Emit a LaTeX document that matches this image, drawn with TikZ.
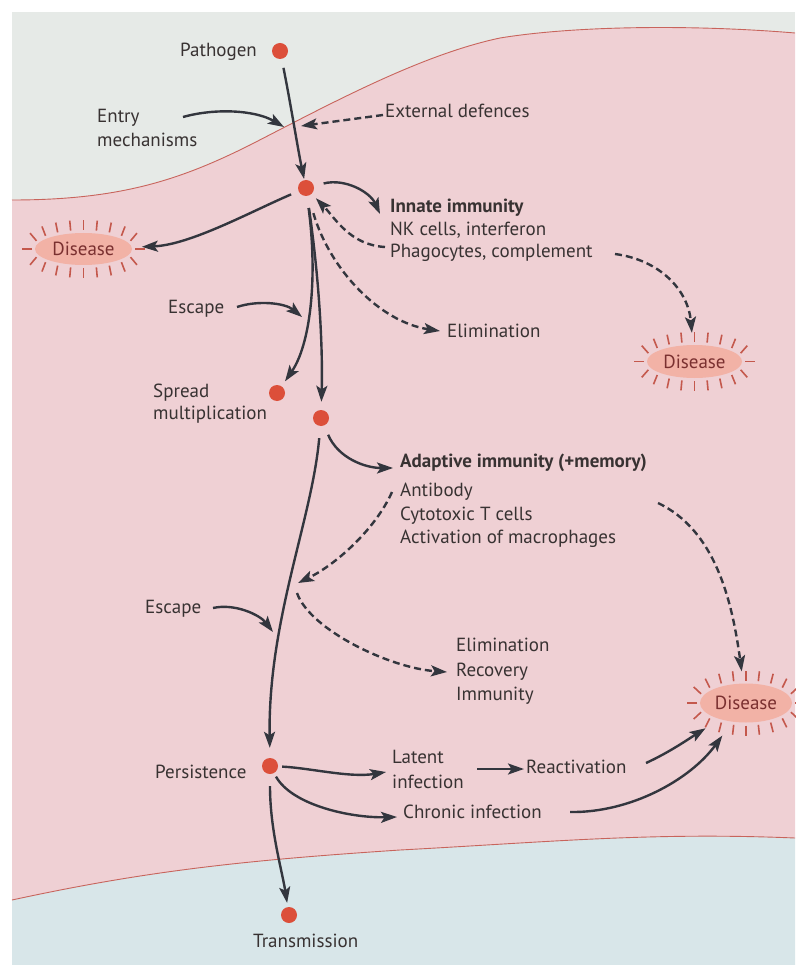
\documentclass[tikz,border=0pt]{standalone}
\usepackage{fontspec}
\setmainfont{PT Sans}
\usetikzlibrary{arrows.meta,shapes.geometric}
\definecolor{bgtop}{HTML}{E6EAE7}
\definecolor{bgbot}{HTML}{D8E6E9}
\definecolor{pinkband}{HTML}{EFD0D4}
\definecolor{edgeline}{HTML}{C8645C}
\definecolor{dotc}{HTML}{DC4F3A}
\definecolor{arrc}{HTML}{33363E}
\definecolor{txt}{HTML}{383232}
\definecolor{disfill}{HTML}{F2B2A6}
\definecolor{distxt}{HTML}{7A3030}
\definecolor{spk}{HTML}{C4584C}
\tikzset{
  lbl/.style={inner sep=0pt, anchor=base west, text=txt, font=\fontsize{19}{23}\selectfont},
  blbl/.style={lbl, font=\fontsize{19}{23}\selectfont\bfseries},
  dot/.style={circle, fill=dotc, minimum size=16pt, inner sep=0pt},
  arr/.style={draw=arrc, line width=2.4pt, -{Stealth[length=16pt,width=11pt,inset=3.5pt]}},
  darr/.style={arr, dash pattern=on 7pt off 4pt},
  disease/.style={ellipse, fill=disfill, inner sep=0pt, text=distxt, font=\fontsize{19}{23}\selectfont},
  spike/.style={draw=spk, line width=1.6pt},
}
\newcommand\spikesfor[3]{%
  \foreach \fx in {-0.93,-0.76,-0.52,-0.26,0,0.26,0.52,0.76,0.93}{%
    \foreach \sgn in {1,-1}{%
      \pgfmathsetmacro\spT{\sgn*acos(\fx)}%
      \pgfmathsetmacro\spX{#3*cos(\spT)}%
      \pgfmathsetmacro\spY{#2*sin(\spT)}%
      \pgfmathsetmacro\spN{sqrt(\spX*\spX+\spY*\spY)}%
      \draw[spike, shift={(#1.center)}] ({#2*cos(\spT)+3*\spX/\spN},{#3*sin(\spT)+3*\spY/\spN}) -- ({#2*cos(\spT)+13*\spX/\spN},{#3*sin(\spT)+13*\spY/\spN});
    }}
  \draw[spike, shift={(#1.center)}] (#2+3,0) -- (#2+13,0);
  \draw[spike, shift={(#1.center)}] (-#2-3,0) -- (-#2-13,0);
}
\begin{document}
\begin{tikzpicture}[x=1pt,y=-1pt]
\useasboundingbox (0,0) rectangle (795,965);
\fill[white] (0,0) rectangle (795,965);
\fill[bgtop] (12,12) rectangle (795,965);
% pink band
\fill[pinkband] (12,200) .. controls (120,200) and (180,180) .. (250,145)
  .. controls (330,104) and (420,55) .. (500,38)
  .. controls (580,25) and (700,25) .. (795,33)
  -- (795,838) .. controls (650,832) and (550,842) .. (400,850)
  .. controls (250,860) and (150,870) .. (12,900) -- cycle;
\fill[bgbot] (12,900) .. controls (150,870) and (250,860) .. (400,850)
  .. controls (550,842) and (650,832) .. (795,838) -- (795,965) -- (12,965) -- cycle;
\draw[edgeline, line width=0.9pt] (12,200) .. controls (120,200) and (180,180) .. (250,145)
  .. controls (330,104) and (420,55) .. (500,38)
  .. controls (580,25) and (700,25) .. (795,33);
\draw[edgeline, line width=0.9pt] (12,900) .. controls (150,870) and (250,860) .. (400,850)
  .. controls (550,842) and (650,832) .. (795,838);

% dots
\node[dot] (pathogen) at (280,51) {};
\node[dot] (d2) at (306,188) {};
\node[dot] (spread) at (277,393) {};
\node[dot] (d4) at (321,418) {};
\node[dot] (persist) at (270,766) {};
\node[dot] (trans) at (289,915) {};

% labels
\node[lbl] (lpath) at (180,57) {Pathogen};
\node[lbl] (lentry1) at (97,123) {Entry};
\node[lbl] (lentry2) at (97,147) {mechanisms};
\node[lbl] (lext) at (385,118) {External defences};
\node[blbl] (linnate) at (390,213) {Innate immunity};
\node[lbl] (lnk) at (390,236) {NK cells, interferon};
\node[lbl] (lphago) at (390,258) {Phagocytes, complement};
\node[lbl] (lelim1) at (447,337) {Elimination};
\node[lbl] (lesc1) at (168,313) {Escape};
\node[lbl] (lspread1) at (153,397) {Spread};
\node[lbl] (lspread2) at (153,419) {multiplication};
\node[blbl] (ladapt) at (400,467) {Adaptive immunity (+memory)};
\node[lbl] (lab) at (400,496) {Antibody};
\node[lbl] (lcyt) at (400,520) {Cytotoxic T cells};
\node[lbl] (lact) at (400,543) {Activation of macrophages};
\node[lbl] (lelim2) at (456,651) {Elimination};
\node[lbl] (lrec) at (456,676) {Recovery};
\node[lbl] (limm) at (456,700) {Immunity};
\node[lbl] (lesc2) at (145,613) {Escape};
\node[lbl] (lpers) at (155,778) {Persistence};
\node[lbl] (llat1) at (392,763) {Latent};
\node[lbl] (llat2) at (392,788) {infection};
\node[lbl] (lreact) at (526,773) {Reactivation};
\node[lbl] (lchron) at (403,818) {Chronic infection};
\node[lbl] (ltrans) at (253,947) {Transmission};

% disease nodes
\node[disease, minimum width=97pt, minimum height=32pt] (dL) at (83.5,249) {Disease};
\node[disease, minimum width=95pt, minimum height=33pt] (dR1) at (694.5,361.5) {Disease};
\node[disease, minimum width=92pt, minimum height=39pt] (dR2) at (746,703) {Disease};
\spikesfor{dL}{48.5}{16}
\spikesfor{dR1}{47.5}{16.5}
\spikesfor{dR2}{46}{19.5}

% ports
\coordinate (entryOut) at (183,117);
\coordinate (skinIn) at (284,127);
\coordinate (extOut) at (383,115);
\coordinate (extIn) at (301,126);
\coordinate (innateIn) at (380,214);
\coordinate (phagoOut) at (385,247);
\coordinate (elimIn) at (440,331);
\coordinate (esc1Out) at (237,307);
\coordinate (esc1In) at (302,317);
\coordinate (phagoOut2) at (615,254);
\coordinate (adaptIn) at (393,468);
\coordinate (abOut) at (392,492);
\coordinate (abIn) at (298,583);
\coordinate (recOut) at (297,593);
\coordinate (recIn) at (447,672);
\coordinate (adOut) at (658,503);
\coordinate (esc2Out) at (213,608);
\coordinate (esc2In) at (273,632);
\coordinate (latIn) at (386,772);
\coordinate (latOut) at (477,769);
\coordinate (reactIn) at (524,769);
\coordinate (reactOut) at (646,763);
\coordinate (chrIn) at (397,817);
\coordinate (chrOut) at (570,812);

% connectors
\draw[arr, shorten <=9pt, shorten >=1pt] (pathogen) .. controls (290,100) and (298,150) .. (d2);
\draw[arr] (entryOut) .. controls (215,108) and (255,110) .. (skinIn);
\draw[darr] (extOut) -- (extIn);
\draw[arr, shorten <=10pt] (d2) .. controls (345,178) and (370,192) .. (innateIn);
\draw[darr, shorten >=6pt] (phagoOut) .. controls (350,245) and (335,218) .. (d2);
\draw[darr, shorten <=18pt] (d2) .. controls (330,270) and (380,322) .. (elimIn);
\draw[arr, shorten <=8pt, shorten >=10pt] (d2) .. controls (250,212) and (190,245) .. (dL);
\draw[arr, shorten <=12pt, shorten >=6pt] (d2) .. controls (318,280) and (310,345) .. (spread);
\draw[arr, shorten <=12pt, shorten >=8pt] (d2) .. controls (318,270) and (323,340) .. (d4);
\draw[arr] (esc1Out) .. controls (258,300) and (285,303) .. (esc1In);
\draw[darr, shorten >=12pt] (phagoOut2) .. controls (660,260) and (688,290) .. (dR1);
\draw[arr, shorten <=10pt] (d4) .. controls (338,458) and (365,468) .. (adaptIn);
\draw[arr, shorten <=12pt, shorten >=10pt] (d4) .. controls (312,520) and (268,620) .. (persist);
\draw[darr] (abOut) .. controls (375,530) and (335,565) .. (abIn);
\draw[darr] (recOut) .. controls (310,630) and (390,668) .. (recIn);
\draw[darr, shorten >=12pt] (adOut) .. controls (715,530) and (732,600) .. (dR2);
\draw[arr] (esc2Out) .. controls (235,603) and (260,615) .. (esc2In);
\draw[arr, shorten <=4pt] (persist) .. controls (310,768) and (350,778) .. (latIn);
\draw[arr, shorten <=4pt] (persist) .. controls (292,805) and (350,818) .. (chrIn);
\draw[arr] (latOut) -- (reactIn);
\draw[arr, shorten >=17pt] (reactOut) .. controls (670,752) and (690,738) .. (dR2);
\draw[arr, shorten >=17pt] (chrOut) .. controls (630,813) and (690,780) .. (dR2);
\draw[arr, shorten <=12pt, shorten >=4pt] (persist) .. controls (270,830) and (282,870) .. (trans);
\end{tikzpicture}
\end{document}
